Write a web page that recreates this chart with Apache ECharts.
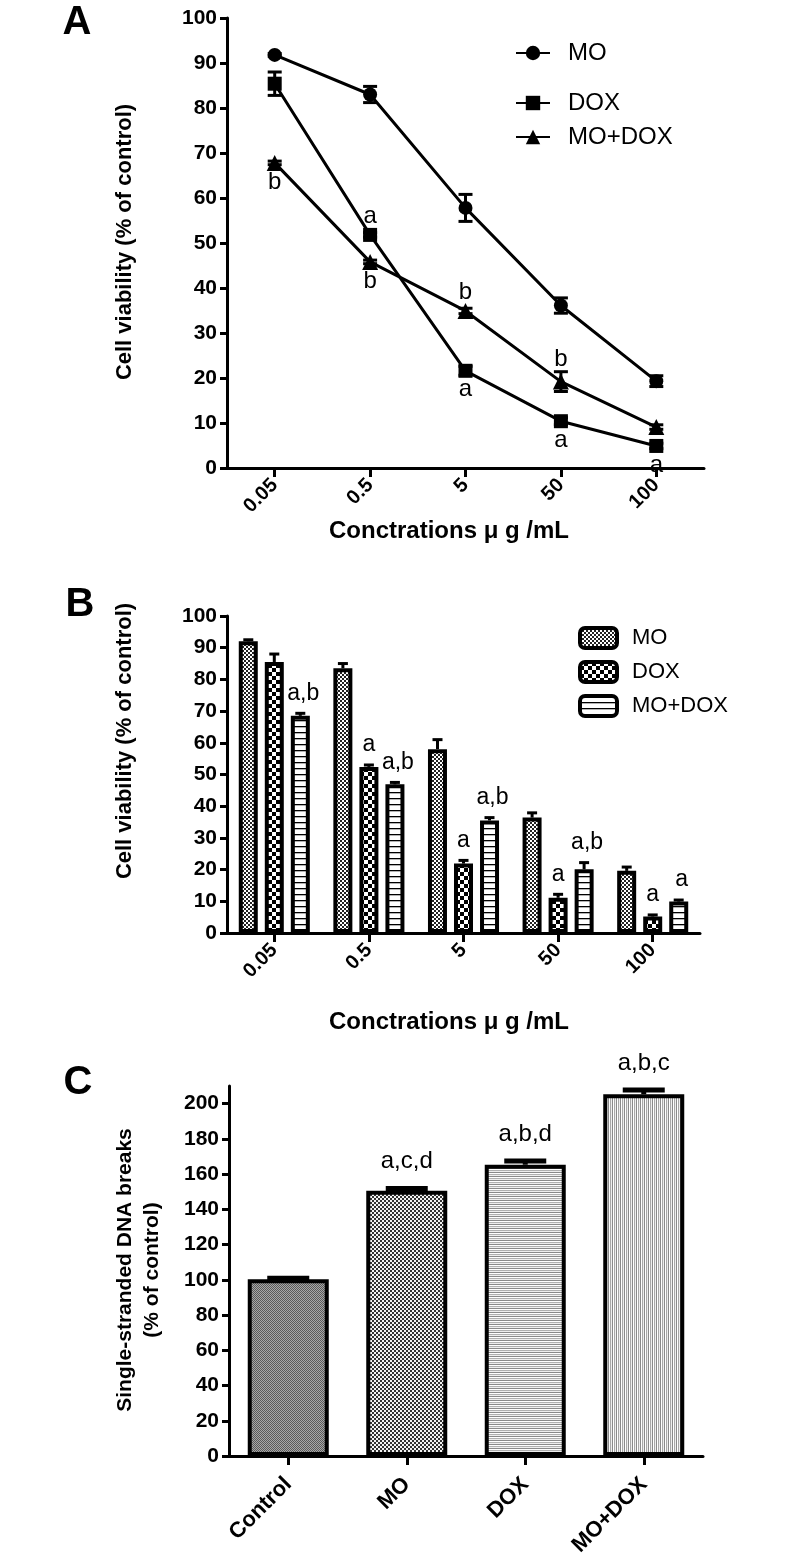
<!DOCTYPE html>
<html><head><meta charset="utf-8">
<script src="https://cdn.jsdelivr.net/npm/echarts@6/dist/echarts.min.js"></script>
<style>html,body{margin:0;padding:0;background:#fff}#c{width:790px;height:1567px}</style>
</head><body><div id="c"></div>
<script>
// ---------- DATA ----------
const concentrations = ['0.05', '0.5', '5', '50', '100'];
const seriesNames = ['MO', 'DOX', 'MO+DOX'];
// Panel A (line)
const lineMO = [91.8, 83, 57.8, 36.1, 19.3];
const lineMOerr = [0.3, 1.8, 3, 1.7, 1.2];
const lineDOX = [85.4, 51.8, 21.6, 10.4, 4.9];
const lineDOXerr = [2.6, 0.5, 1, 0.8, 0.6];
const lineMOD = [67.8, 45.8, 34.9, 19.2, 9.1];
const lineMODerr = [0.4, 0.4, 0.6, 2.2, 0.5];
const annoA_DOX = ['', 'a', 'a', 'a', 'a'];
const annoA_DOXside = ['', 'up', 'down', 'down', 'down'];
const annoA_MOD = ['b', 'b', 'b', 'b', ''];
const annoA_MODside = ['down', 'down', 'up', 'up', ''];
// Panel B (bars)
const barMO = [92, 83.5, 58, 36.4, 19.6];
const barMOerr = [0.5, 1.5, 3, 1.5, 1.2];
const barDOX = [85.5, 52.4, 21.9, 11.1, 5.2];
const barDOXerr = [2.5, 0.6, 1, 1.1, 0.5];
const barMOD = [68.5, 46.9, 35.5, 20.1, 9.9];
const barMODerr = [0.8, 0.6, 0.9, 2.1, 0.5];
const annoB_MO = ['', '', '', '', ''];
const annoB_DOX = ['', 'a', 'a', 'a', 'a'];
const annoB_MOD = ['a,b', 'a,b', 'a,b', 'a,b', 'a'];
// Panel C (bars)
const groupsC = ['Control', 'MO', 'DOX', 'MO+DOX'];
const ssbValues = [100.3, 150.5, 165.3, 205.3];
const ssbErr = [0.6, 1.3, 2.2, 2.4];
const annoC = ['', 'a,c,d', 'a,b,d', 'a,b,c'];
const yTicksAB = [0, 10, 20, 30, 40, 50, 60, 70, 80, 90, 100];
const yTicksC = [0, 20, 40, 60, 80, 100, 120, 140, 160, 180, 200];

// ---------- STYLE HELPERS ----------
const FF = "'Liberation Sans', Arial, Helvetica, sans-serif";
function pattern(w, h, draw) {
  const c = document.createElement('canvas');
  c.width = w; c.height = h;
  const g = c.getContext('2d');
  draw(g);
  return { image: c, repeat: 'repeat' };
}
const patB_MO = pattern(4, 4, g => { g.fillStyle = '#fff'; g.fillRect(0,0,4,4); g.fillStyle = '#222'; g.fillRect(0,0,2,2); g.fillRect(2,2,2,2); });
const patB_DOX = pattern(8, 8, g => { g.fillStyle = '#000'; g.fillRect(0,0,8,8); g.fillStyle = '#fff'; g.fillRect(0,0,4,4); g.fillRect(4,4,4,4); });
const patB_MOD = pattern(6, 6, g => { g.fillStyle = '#fff'; g.fillRect(0,0,6,6); g.fillStyle = '#000'; g.fillRect(0,0,6,1.3); });
const patC = [
  pattern(2, 2, g => { g.fillStyle = '#5a5a5a'; g.fillRect(0,0,2,2); g.fillStyle = '#a8a8a8'; g.fillRect(1,0,1,1); g.fillRect(0,1,1,1); }),
  pattern(4, 4, g => { g.fillStyle = '#f4f4f4'; g.fillRect(0,0,4,4); g.fillStyle = '#333'; g.fillRect(0,0,2,2); g.fillRect(2,2,2,2); }),
  pattern(1, 4, g => { const cs = ['#8a8a8a', '#ffffff', '#b0b0b0', '#eeeeee']; cs.forEach((c, i) => { g.fillStyle = c; g.fillRect(0, i, 1, 1); }); }),
  pattern(4, 1, g => { const cs = ['#8a8a8a', '#ffffff', '#a8a8a8', '#eeeeee']; cs.forEach((c, i) => { g.fillStyle = c; g.fillRect(i, 0, 1, 1); }); })
];

function yAxis(gi, max, interval, ticks) {
  return {
    type: 'value', gridIndex: gi, min: 0, max: max, interval: interval,
    axisLine: { show: true, lineStyle: { color: '#000', width: 3 } },
    axisTick: { show: true, length: 7, lineStyle: { color: '#000', width: 3 }, customValues: ticks },
    axisLabel: { color: '#000', fontFamily: FF, fontWeight: 'bold', fontSize: 21, margin: 10, customValues: ticks },
    splitLine: { show: false }
  };
}
function xAxis(gi, cats, fs, margin) {
  return {
    type: 'category', gridIndex: gi, data: cats, boundaryGap: true,
    axisLine: { show: true, lineStyle: { color: '#000', width: 3 } },
    axisTick: { show: true, alignWithLabel: true, length: 9, lineStyle: { color: '#000', width: 3 } },
    axisLabel: { color: '#000', fontFamily: FF, fontWeight: 'bold', fontSize: fs, rotate: 45, margin: margin, interval: 0 },
    splitLine: { show: false }
  };
}
function errAnno(gi, vals, errs, o) {
  return {
    type: 'custom', xAxisIndex: gi, yAxisIndex: gi, silent: true, z: o.z || 6,
    data: vals.map((v, i) => [i, v, errs[i]]),
    renderItem(params, api) {
      const i = params.dataIndex;
      const v = api.value(1), e = api.value(2);
      const p = api.coord([i, v]);
      const x = p[0] + (o.dx || 0);
      const yt = api.coord([i, v + e])[1];
      const yb = api.coord([i, v - e])[1];
      const ls = { stroke: '#000', lineWidth: o.lw };
      const ch = [];
      if (e > 0) {
        ch.push({ type: 'line', shape: { x1: x, y1: o.both ? yb : p[1], x2: x, y2: yt }, style: ls });
        ch.push({ type: 'line', shape: { x1: x - o.cap / 2, y1: yt, x2: x + o.cap / 2, y2: yt }, style: ls });
        if (o.both) ch.push({ type: 'line', shape: { x1: x - o.cap / 2, y1: yb, x2: x + o.cap / 2, y2: yb }, style: ls });
      }
      const t = o.labels ? o.labels[i] : '';
      if (t) {
        const side = o.sides ? o.sides[i] : 'up';
        const r = o.symR || 0;
        const ty = side === 'up' ? Math.min(yt, p[1] - r) - o.gap : Math.max(yb, p[1] + r) + o.gap;
        ch.push({ type: 'text', x: x + (o.tdx || 0), y: ty, style: { text: t, fill: '#000', font: o.font, align: 'center', verticalAlign: 'middle' } });
      }
      return { type: 'group', children: ch };
    }
  };
}
function lineSeries(name, data, sym) {
  return {
    name: name, type: 'line', xAxisIndex: 0, yAxisIndex: 0, data: data,
    symbol: sym, symbolSize: sym === 'triangle' ? 16 : 14,
    lineStyle: { color: '#000', width: 3 }, itemStyle: { color: '#000' },
    z: 4, animation: false
  };
}
function barSeries(name, data, color) {
  return {
    name: 'B:' + name, type: 'bar', xAxisIndex: 1, yAxisIndex: 1, data: data,
    barWidth: 19, barGap: '37%',
    itemStyle: { color: color, borderColor: '#000', borderWidth: 4 }, animation: false
  };
}

const legendText = { fontFamily: FF, color: '#000', fontSize: 24, padding: [0, 0, 0, 13] };
function lineLegend(name, top) {
  return { data: [name], left: 510, top: top, orient: 'vertical', itemWidth: 34, itemHeight: 18,
    selectedMode: false, textStyle: legendText };
}

const chart = echarts.init(document.getElementById('c'), null, { renderer: 'canvas' });
chart.setOption({
  animation: false,
  backgroundColor: '#fff',
  grid: [
    { left: 227, top: 18, width: 477, height: 450, containLabel: false, outerBoundsMode: 'none' },
    { left: 227, top: 616, width: 473, height: 317, containLabel: false, outerBoundsMode: 'none' },
    { left: 229, top: 1086, width: 474, height: 370, containLabel: false, outerBoundsMode: 'none' }
  ],
  xAxis: [xAxis(0, concentrations, 20, 14), xAxis(1, concentrations, 20, 14), xAxis(2, groupsC, 22, 25)],
  yAxis: [yAxis(0, 100, 10, yTicksAB), yAxis(1, 100, 10, yTicksAB), yAxis(2, 210, 10, yTicksC)],
  legend: [
    lineLegend('MO', 36),
    lineLegend('DOX', 86),
    lineLegend('MO+DOX', 120),
    { data: seriesNames.map(n => 'B:' + n), left: 573, top: 621, orient: 'vertical', itemWidth: 37, itemHeight: 20, itemGap: 10,
      selectedMode: false, formatter: n => n.slice(2),
      itemStyle: { borderColor: '#000', borderWidth: 4 },
      textStyle: { fontFamily: FF, color: '#000', fontSize: 22, padding: [0, 0, 0, 10] } }
  ],
  graphic: [
    { type: 'text', x: 77, y: 23, style: { text: 'A', font: 'bold 40px ' + FF, fill: '#000', align: 'center', verticalAlign: 'middle' } },
    { type: 'text', x: 80, y: 605, style: { text: 'B', font: 'bold 40px ' + FF, fill: '#000', align: 'center', verticalAlign: 'middle' } },
    { type: 'text', x: 78, y: 1083, style: { text: 'C', font: 'bold 40px ' + FF, fill: '#000', align: 'center', verticalAlign: 'middle' } },
    { type: 'text', x: 125, y: 242, rotation: Math.PI / 2, style: { text: 'Cell viability (% of control)', font: 'bold 22px ' + FF, fill: '#000', align: 'center', verticalAlign: 'middle' } },
    { type: 'text', x: 449, y: 531, style: { text: 'Conctrations \u03bc g /mL', font: 'bold 24px ' + FF, fill: '#000', align: 'center', verticalAlign: 'middle' } },
    { type: 'text', x: 125, y: 741, rotation: Math.PI / 2, style: { text: 'Cell viability (% of control)', font: 'bold 22px ' + FF, fill: '#000', align: 'center', verticalAlign: 'middle' } },
    { type: 'text', x: 449, y: 1022, style: { text: 'Conctrations \u03bc g /mL', font: 'bold 24px ' + FF, fill: '#000', align: 'center', verticalAlign: 'middle' } },
    { type: 'text', x: 125, y: 1270, rotation: Math.PI / 2, style: { text: 'Single-stranded DNA breaks', font: 'bold 21px ' + FF, fill: '#000', align: 'center', verticalAlign: 'middle' } },
    { type: 'text', x: 152, y: 1270, rotation: Math.PI / 2, style: { text: '(% of control)', font: 'bold 21px ' + FF, fill: '#000', align: 'center', verticalAlign: 'middle' } }
  ],
  series: [
    lineSeries('MO', lineMO, 'circle'),
    lineSeries('DOX', lineDOX, 'rect'),
    lineSeries('MO+DOX', lineMOD, 'triangle'),
    errAnno(0, lineMO, lineMOerr, { both: true, cap: 14, lw: 3 }),
    errAnno(0, lineDOX, lineDOXerr, { both: true, cap: 14, lw: 3, labels: annoA_DOX, sides: annoA_DOXside, gap: 12, symR: 7, font: '24px ' + FF }),
    errAnno(0, lineMOD, lineMODerr, { both: true, cap: 14, lw: 3, labels: annoA_MOD, sides: annoA_MODside, gap: 12, symR: 7, font: '24px ' + FF }),
    barSeries('MO', barMO, patB_MO),
    barSeries('DOX', barDOX, patB_DOX),
    barSeries('MO+DOX', barMOD, patB_MOD),
    errAnno(1, barMO, barMOerr, { dx: -26, cap: 10, lw: 3, labels: annoB_MO, gap: 20, font: '23px ' + FF }),
    errAnno(1, barDOX, barDOXerr, { dx: 0, cap: 10, lw: 3, labels: annoB_DOX, gap: 20, font: '23px ' + FF }),
    errAnno(1, barMOD, barMODerr, { dx: 26, cap: 10, lw: 3, labels: annoB_MOD, gap: 20, tdx: 3, font: '23px ' + FF }),
    {
      name: 'SSB', type: 'bar', xAxisIndex: 2, yAxisIndex: 2, barWidth: 81,
      data: ssbValues.map((v, i) => ({ value: v, itemStyle: { color: patC[i] } })),
      itemStyle: { borderColor: '#000', borderWidth: 4 }, animation: false
    },
    errAnno(2, ssbValues, ssbErr, { cap: 42, lw: 5, labels: annoC, gap: 27, font: '24px ' + FF })
  ]
});
</script></body></html>
